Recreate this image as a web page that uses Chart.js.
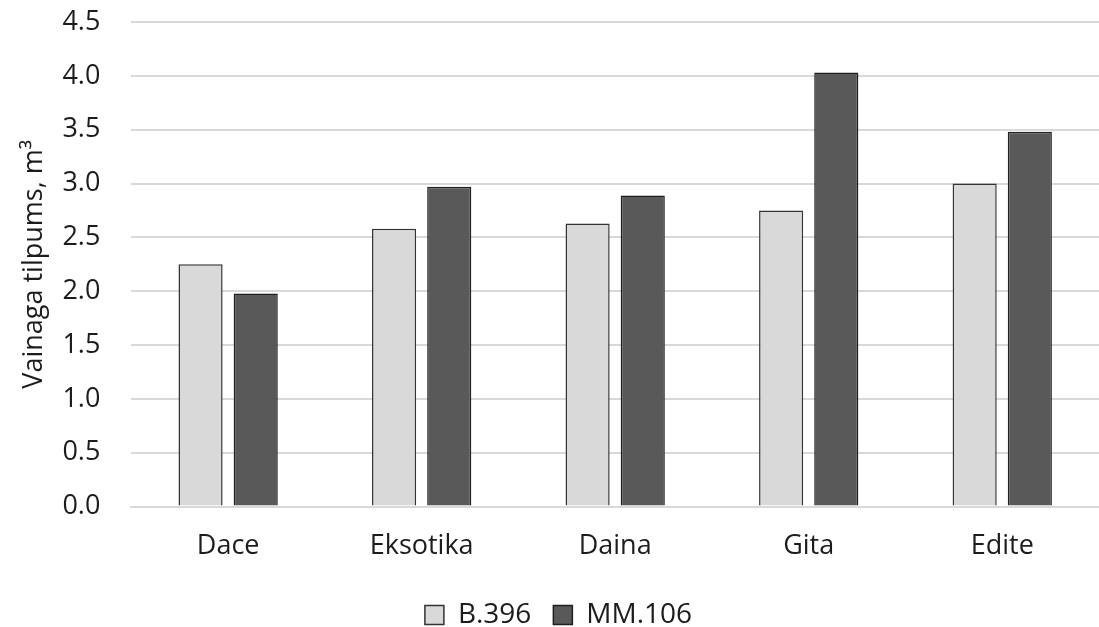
<!DOCTYPE html>
<html>
<head>
<meta charset="utf-8">
<script src="https://cdn.jsdelivr.net/npm/chart.js@4"></script>
<style>
  html, body { margin: 0; padding: 0; background: #fff; }
  #wrap { width: 1099px; height: 627px; }
</style>
</head>
<body>
<div id="wrap"><canvas id="chart"></canvas></div>
<script>
const categories = ['Dace', 'Eksotika', 'Daina', 'Gita', 'Edite'];
const seriesNames = ['B.396', 'MM.106'];
const b396 = [2.25, 2.58, 2.63, 2.75, 3.00];
const mm106 = [1.98, 2.97, 2.89, 4.03, 3.48];
const yTicks = [0, 0.5, 1.0, 1.5, 2.0, 2.5, 3.0, 3.5, 4.0, 4.5];

const font = "'Open Sans', 'Liberation Sans', sans-serif";
const textColor = '#1c1c1c';

new Chart(document.getElementById('chart'), {
    type: 'bar',
    data: {
        labels: categories,
        datasets: [{
            label: seriesNames[0],
            data: b396,
            backgroundColor: '#d9d9d9',
            borderColor: '#333333',
            borderWidth: 1.5
        }, {
            label: seriesNames[1],
            data: mm106,
            backgroundColor: '#595959',
            borderColor: '#1f1f1f',
            borderWidth: 1.5
        }]
    },
    options: {
        responsive: true,
        maintainAspectRatio: false,
        animation: false,
        layout: { padding: { top: 22, right: 0, left: 18, bottom: -12 } },
        datasets: {
            bar: { barPercentage: 0.8, categoryPercentage: 0.57 }
        },
        scales: {
            x: {
                grid: { display: false },
                border: { color: '#d9d9d9', width: 2 },
                ticks: { color: textColor, font: { family: font, size: 27 }, padding: 16 }
            },
            y: {
                min: 0,
                max: 4.5,
                afterBuildTicks: function(axis) {
                    axis.ticks = yTicks.map(v => ({ value: v }));
                },
                afterFit: function(axis) {
                    // let the top label overhang the plot instead of pushing it down
                    axis.paddingTop = 0;
                },
                grid: { color: '#d9d9d9', lineWidth: 2, drawTicks: false },
                border: { display: false },
                ticks: {
                    color: textColor,
                    padding: 31,
                    font: { family: font, size: 27 },
                    callback: v => Number(v).toFixed(1)
                },
                title: {
                    display: true,
                    text: 'Vainaga tilpums, m³',
                    color: textColor,
                    font: { family: font, size: 27 },
                    padding: { top: 0, bottom: -19 }
                }
            }
        },
        plugins: {
            legend: {
                position: 'bottom',
                labels: {
                    color: textColor,
                    font: { family: font, size: 28 },
                    boxWidth: 19,
                    boxHeight: 19,
                    padding: 22
                }
            },
            tooltip: { enabled: false }
        }
    }
});
</script>
</body>
</html>
